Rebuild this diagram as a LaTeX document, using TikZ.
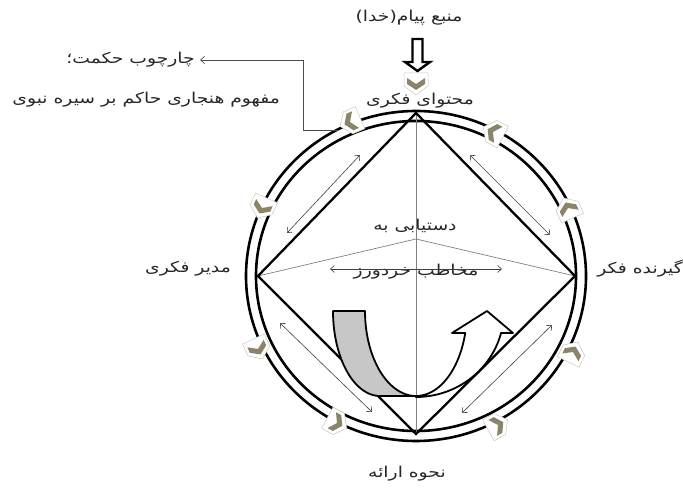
\documentclass[tikz,border=0pt]{standalone}
\usepackage{fontspec}
\newfontfamily\fa[Script=Arabic,FakeStretch=1.25]{DejaVu Sans}
\TeXXeTstate=1
\usetikzlibrary{arrows.meta}
\definecolor{chevcol}{RGB}{140,132,104}
\newcommand\mychev[3]{%
  \begin{scope}[shift={(#1,#2)},rotate=#3]
    \filldraw[fill=white,draw=black!22,line width=0.5pt] (-11,-12) -- (2,-12) -- (11,0) -- (2,12) -- (-11,12) -- cycle;
    \fill[chevcol] (-6,-9) -- (0,-9) -- (6,0) -- (0,9) -- (-6,9) -- (0,0) -- cycle;
  \end{scope}}
\begin{document}
\begin{tikzpicture}[x=1pt,y=-1pt,
  lbl/.style={font=\fa\fontsize{15}{17}\selectfont, inner sep=0pt, text=black!85},
  ring/.style={line width=2.6pt},
  dia/.style={line width=2.3pt, line join=miter},
  thinl/.style={line width=0.7pt, draw=black!50},
  dbl/.style={line width=0.6pt, draw=black!75, {Straight Barb[length=4pt,width=7pt]}-{Straight Barb[length=4pt,width=7pt]}},
  ushape/.style={line width=1.8pt, line join=round},
  conn/.style={line width=0.7pt, draw=black!70, -{Straight Barb[length=4pt,width=7pt]}}]
\useasboundingbox (0,0) rectangle (683,489);

% coordinates
\coordinate (ctr) at (416,276);
\coordinate (T) at (416,113);
\coordinate (B) at (416,434);
\coordinate (L) at (258,276);
\coordinate (R) at (575,276);
\coordinate (V) at (416,239);

% rings
\draw[ring] (ctr) ellipse [x radius=170, y radius=165];
\draw[ring] (ctr) ellipse [x radius=160, y radius=155];

% thin lines
\draw[thinl] (T) -- (B);
\draw[thinl] (L) -- (V) -- (R);

% diamond
\draw[dia] (T) -- (R) -- (B) -- (L) -- cycle;

% labels
\node[lbl] (src) at (409,18) {\beginR منبع پیام(خدا)\endR};
\node[lbl] (cont) at (420,101) {\beginR محتوای فکری\endR};
\node[lbl] (acc) at (415,226) {\beginR دستیابی به\endR};
\node[lbl] (aud) at (416,272) {\beginR مخاطب خردورز\endR};
\node[lbl] (mgr) at (188,269) {\beginR مدیر فکری\endR};
\node[lbl] (rcv) at (640,269) {\beginR گیرنده فکر\endR};
\node[lbl] (pres) at (407,474) {\beginR نحوه ارائه\endR};
\node[lbl, anchor=east] (t1) at (195,60) {\beginR چارچوب حکمت؛\endR};
\node[lbl, anchor=east] (t2) at (280,100) {\beginR مفهوم هنجاری حاکم بر سیره نبوی\endR};

% double arrows
\coordinate (a1) at (360,155); \coordinate (a2) at (287,233);
\coordinate (b1) at (470,155); \coordinate (b2) at (550,235);
\coordinate (c1) at (280,323); \coordinate (c2) at (372,412);
\coordinate (d1) at (462,413); \coordinate (d2) at (552,325);
\coordinate (h1) at (330,269); \coordinate (h2) at (502,269);
\draw[dbl] (a1) -- (a2);
\draw[dbl] (b1) -- (b2);
\draw[dbl] (c1) -- (c2);
\draw[dbl] (d1) -- (d2);
\draw[dbl] (h1) -- (h2);

% U-turn arrow
\filldraw[ushape, fill=black!22] (333,311) -- (365,311)
  -- plot[domain=180:90, samples=40] ({416+51*cos(\x)},{311+85*sin(\x)})
  -- (380,396)
  -- plot[domain=90:180, samples=40] ({380+47*cos(\x)},{311+85*sin(\x)})
  -- cycle;
\filldraw[ushape, fill=white] (416,396)
  -- plot[domain=90:15, samples=40] ({416+51*cos(\x)},{311+85*sin(\x)})
  -- (452,333) -- (487,311) -- (513,333) -- (501,333)
  -- plot[domain=15:90, samples=40] ({416+88*cos(\x)},{311+86*sin(\x)})
  -- cycle;

% top block arrow
\draw[line width=2.4pt, fill=white, line join=miter] (412.5,39) -- (422.5,39) -- (422.5,62) -- (430,62) -- (417.5,71) -- (405,62) -- (412.5,62) -- cycle;

% connector to left text
\coordinate (jc) at (338,130);
\draw[conn] (jc) -- (303,130) |- ([xshift=5pt]t1.east);

% chevrons
\mychev{416}{84}{-90}
\mychev{350}{122}{-156.8}
\mychev{262}{208}{-113.8}
\mychev{258}{349}{-65.2}
\mychev{337}{423}{-28.3}
\mychev{498}{425}{28.8}
\mychev{573}{352}{64.2}
\mychev{568}{208}{114.1}
\mychev{493}{132}{151.9}
\end{tikzpicture}
\end{document}
